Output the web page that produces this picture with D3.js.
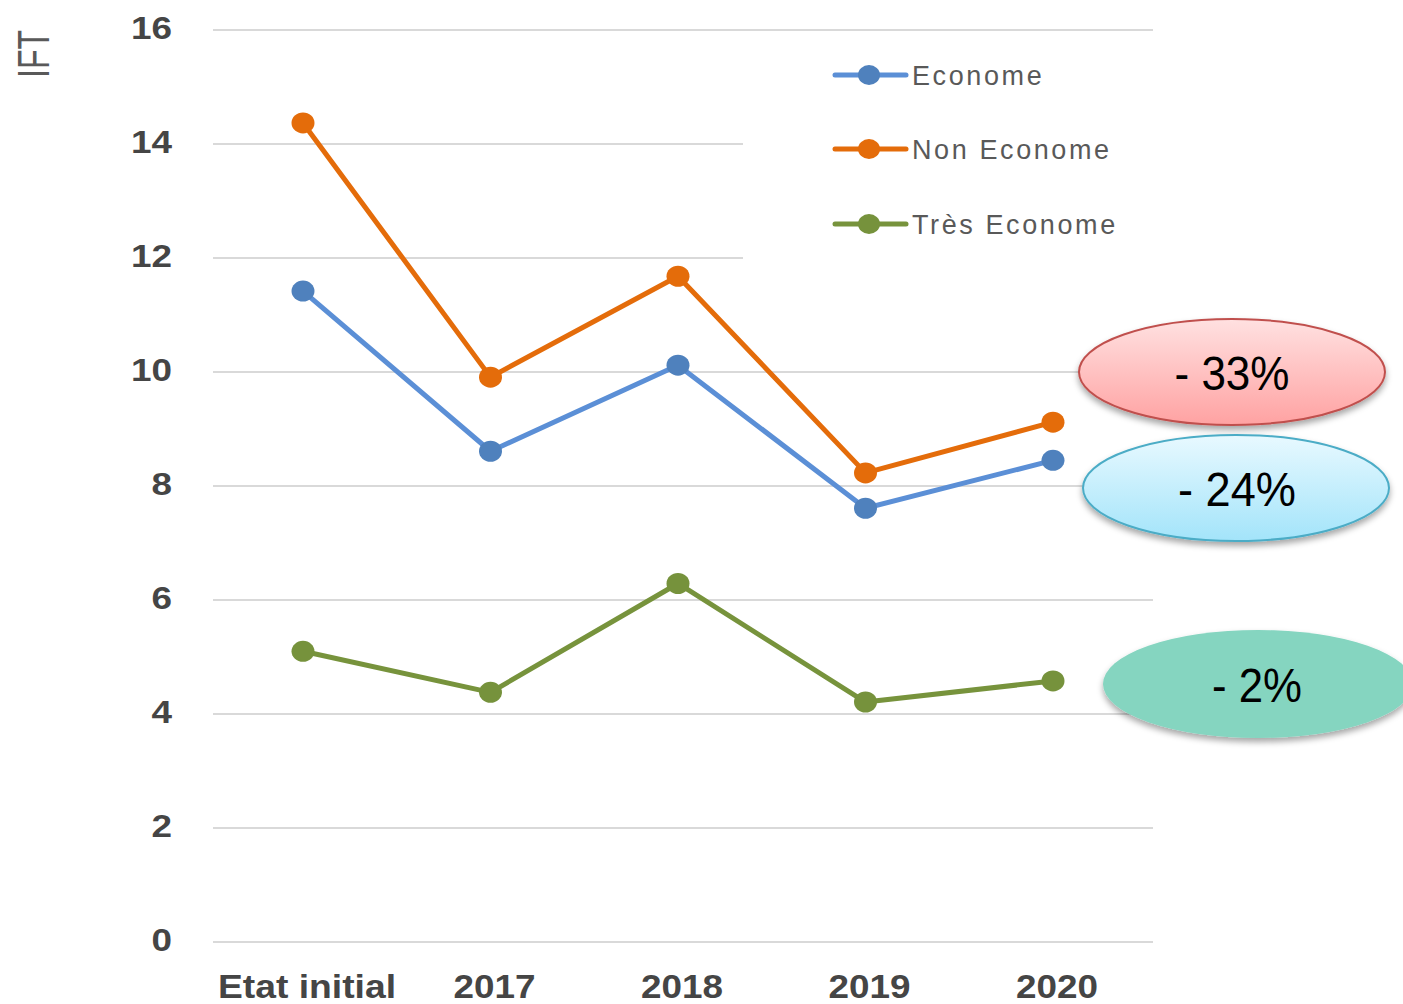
<!DOCTYPE html>
<html>
<head>
<meta charset="utf-8">
<script src="https://cdn.jsdelivr.net/npm/d3@7"></script>
<style>
  body { margin: 0; background: white; }
  text { font-family: "Liberation Sans", Arial, sans-serif; }
</style>
</head>
<body>
<div id="chart"></div>
<script>
let width = 1403, height = 1004;

// data
let categories = ['Etat initial', '2017', '2018', '2019', '2020'];
let econome = [11.42, 8.61, 10.12, 7.61, 8.45];
let nonEconome = [14.37, 9.91, 11.68, 8.23, 9.12];
let tresEconome = [5.1, 4.38, 6.29, 4.21, 4.58];
let seriesNames = ['Econome', 'Non Econome', 'Très Econome'];
let yTicks = [0, 2, 4, 6, 8, 10, 12, 14, 16];
let badges = ['- 33%', '- 24%', '- 2%'];

let series = [
  { name: seriesNames[0], values: econome, line: '#5b8fd6', dot: '#4f81bd' },
  { name: seriesNames[1], values: nonEconome, line: '#e46c0a', dot: '#e46c0a' },
  { name: seriesNames[2], values: tresEconome, line: '#77933c', dot: '#76923c' }
];

let margin = { top: 30, bottom: 62, left: 213, right: 250 };

let svg = d3.select('#chart')
  .append('svg')
  .attr('width', width)
  .attr('height', height)
  .style('background', 'white');

let defs = svg.append('defs');
let shadow = defs.append('filter').attr('id', 'shadow')
  .attr('x', '-20%').attr('y', '-20%').attr('width', '140%').attr('height', '160%');
shadow.append('feDropShadow')
  .attr('dx', 0).attr('dy', 4).attr('stdDeviation', 3)
  .attr('flood-color', '#000').attr('flood-opacity', 0.35);

function grad(id, top, bottom) {
  let g = defs.append('linearGradient').attr('id', id)
    .attr('x1', 0).attr('y1', 0).attr('x2', 0).attr('y2', 1);
  g.append('stop').attr('offset', '0%').attr('stop-color', top);
  g.append('stop').attr('offset', '100%').attr('stop-color', bottom);
}
grad('gRed', '#ffe1e1', '#ffa2a2');
grad('gBlue', '#e8f9ff', '#a3e4fa');

let xscale = d3.scalePoint()
  .domain(categories)
  .range([303, 1053]);

let yscale = d3.scaleLinear()
  .domain([0, 16])
  .range([height - margin.bottom, margin.top]);

// gridlines
svg.append('g')
  .selectAll('line')
  .data(yTicks)
  .enter()
  .append('line')
  .attr('x1', margin.left)
  .attr('x2', width - margin.right)
  .attr('y1', d => yscale(d))
  .attr('y2', d => yscale(d))
  .attr('stroke', '#d9d9d9')
  .attr('stroke-width', 2);

// y tick labels
svg.append('g')
  .selectAll('text')
  .data(yTicks)
  .enter()
  .append('text')
  .text(d => d)
  .attr('x', 172)
  .attr('y', d => yscale(d) + 9)
  .attr('text-anchor', 'end')
  .attr('textLength', d => String(d).length * 20.5)
  .attr('lengthAdjust', 'spacingAndGlyphs')
  .style('font-size', '32px')
  .style('font-weight', 'bold')
  .style('fill', '#454545');

// x labels (narrow bold look of the original)
svg.append('g')
  .selectAll('text')
  .data(categories)
  .enter()
  .append('text')
  .text(d => d)
  .attr('x', d => xscale(d) + 4)
  .attr('y', 998)
  .attr('text-anchor', 'middle')
  .attr('textLength', (d, i) => i === 0 ? 178 : 82)
  .attr('lengthAdjust', 'spacingAndGlyphs')
  .style('font-size', '34px')
  .style('font-weight', 'bold')
  .style('fill', '#454545');

// axis title
svg.append('text')
  .text('IFT')
  .attr('transform', 'translate(49, 54) rotate(-90)')
  .attr('text-anchor', 'middle')
  .attr('textLength', 48)
  .attr('lengthAdjust', 'spacingAndGlyphs')
  .style('font-size', '44px')
  .style('fill', '#595959');

// legend background hides part of the gridlines
svg.append('rect')
  .attr('x', 743).attr('y', 40)
  .attr('width', 420).attr('height', 222)
  .attr('fill', 'white');

let line = d3.line()
  .x((d, i) => xscale(categories[i]))
  .y(d => yscale(d));

series.forEach(s => {
  svg.append('path')
    .datum(s.values)
    .attr('d', line)
    .attr('fill', 'none')
    .attr('stroke', s.line)
    .attr('stroke-width', 5)
    .attr('stroke-linejoin', 'round');

  svg.append('g')
    .selectAll('ellipse')
    .data(s.values)
    .enter()
    .append('ellipse')
    .attr('cx', (d, i) => xscale(categories[i]))
    .attr('cy', d => yscale(d))
    .attr('rx', 11.5)
    .attr('ry', 10.5)
    .attr('fill', s.dot);
});

// legend
let legend = svg.append('g');
let legendY = [75, 149, 224];
series.forEach((s, i) => {
  let g = legend.append('g').attr('transform', `translate(0, ${legendY[i]})`);
  g.append('line')
    .attr('x1', 835).attr('x2', 906)
    .attr('stroke', s.line)
    .attr('stroke-width', 5)
    .attr('stroke-linecap', 'round');
  g.append('ellipse')
    .attr('cx', 869).attr('rx', 11).attr('ry', 10)
    .attr('fill', s.dot);
  g.append('text')
    .text(s.name)
    .attr('x', 912)
    .attr('y', 10)
    .attr('letter-spacing', 2.6)
    .style('font-size', '27px')
    .style('fill', '#595959');
});

// percentage badges
let badgeShapes = [
  { cx: 1232, cy: 372, rx: 153, ry: 53, fill: 'url(#gRed)', stroke: '#c0504d', tx: 1232, w: 115 },
  { cx: 1236, cy: 488, rx: 153, ry: 53, fill: 'url(#gBlue)', stroke: '#4bacc6', tx: 1237, w: 118 },
  { cx: 1258, cy: 684, rx: 155, ry: 54, fill: '#85d5c0', stroke: 'none', tx: 1257, w: 90 }
];
badgeShapes.forEach((b, i) => {
  svg.append('ellipse')
    .attr('cx', b.cx).attr('cy', b.cy)
    .attr('rx', b.rx).attr('ry', b.ry)
    .attr('fill', b.fill)
    .attr('stroke', b.stroke)
    .attr('stroke-width', 2)
    .attr('filter', 'url(#shadow)');
  svg.append('text')
    .text(badges[i])
    .attr('x', b.tx)
    .attr('y', b.cy + 18)
    .attr('text-anchor', 'middle')
    .attr('textLength', b.w)
    .attr('lengthAdjust', 'spacingAndGlyphs')
    .style('font-size', '49px')
    .style('fill', '#000');
});
</script>
</body>
</html>
